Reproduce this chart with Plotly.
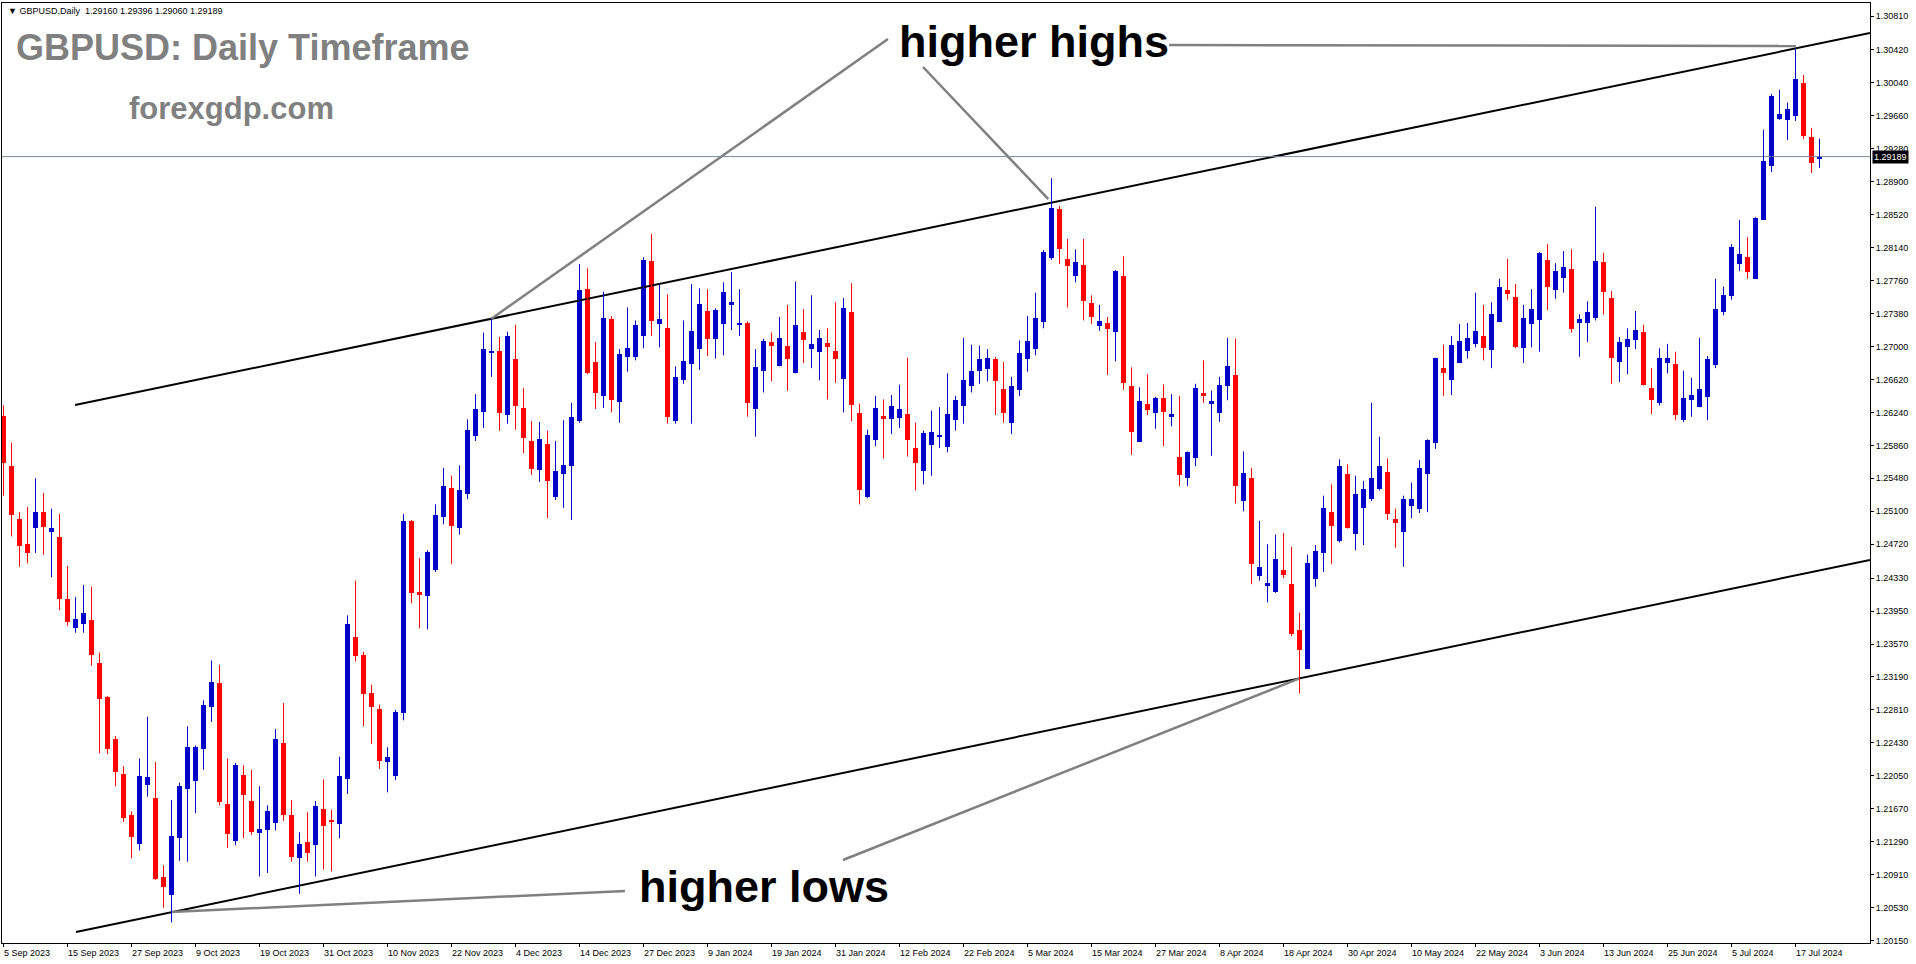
import plotly.graph_objects as go
import pandas as pd

# ---------------- data (GBPUSD daily) ----------------
open_ = [1.2620,1.2562,1.2501,1.2472,1.2491,1.2509,1.2486,1.2480,1.2409,1.2375,
1.2380,1.2385,1.2335,1.2296,1.2247,1.2207,1.2160,1.2126,1.2195,1.2179,
1.2088,1.2068,1.2133,1.2190,1.2199,1.2236,1.2284,1.2312,1.2172,1.2130,
1.2206,1.2176,1.2139,1.2142,1.2151,1.2243,1.2160,1.2110,1.2129,1.2125,
1.2167,1.2154,1.2149,1.2201,1.2365,1.2344,1.2300,1.2282,1.2221,1.2205,
1.2277,1.2499,1.2417,1.2412,1.2442,1.2503,1.2537,1.2491,1.2530,1.2597,
1.2624,1.2692,1.2695,1.2621,1.2686,1.2629,1.2591,1.2558,1.2588,1.2526,
1.2553,1.2562,1.2614,1.2766,1.2682,1.2643,1.2732,1.2636,1.2688,1.2688,
1.2712,1.2799,1.2726,1.2721,1.2614,1.2661,1.2680,1.2697,1.2741,1.2709,
1.2726,1.2748,1.2725,1.2727,1.2628,1.2672,1.2705,1.2677,1.2701,1.2669,
1.2717,1.2697,1.2694,1.2704,1.2695,1.2662,1.2740,1.2623,1.2526,1.2592,
1.2620,1.2616,1.2617,1.2622,1.2583,1.2556,1.2586,1.2596,1.2584,1.2615,
1.2631,1.2654,1.2672,1.2674,1.2686,1.2651,1.2612,1.2650,1.2686,1.2697,
1.2728,1.2802,1.2858,1.2801,1.2781,1.2794,1.2750,1.2724,1.2727,1.2717,
1.2781,1.2654,1.2590,1.2634,1.2623,1.2641,1.2619,1.2573,1.2548,1.2571,
1.2646,1.2634,1.2623,1.2654,1.2667,1.2522,1.2548,1.2435,1.2425,1.2417,
1.2442,1.2426,1.2373,1.2328,1.2432,1.2462,1.2509,1.2476,1.2553,1.2484,
1.2514,1.2524,1.2536,1.2555,1.2501,1.2486,1.2516,1.2513,1.2553,1.2589,
1.2675,1.2661,1.2681,1.2695,1.2703,1.2712,1.2696,1.2728,1.2765,1.2757,
1.2698,1.2726,1.2730,1.2800,1.2765,1.2779,1.2789,1.2727,1.2727,1.2733,
1.2797,1.2756,1.2682,1.2699,1.2707,1.2717,1.2652,1.2635,1.2681,1.2680,
1.2615,1.2638,1.2630,1.2642,1.2679,1.2740,1.2758,1.2795,1.2803,1.2778,
1.2846,1.2908,1.2962,1.2961,1.2966,1.3004,1.2942,1.29160]

high = [1.2632,1.2589,1.2509,1.2515,1.2548,1.2531,1.2513,1.2507,1.2447,1.2411,
1.2425,1.2423,1.2347,1.2297,1.2251,1.2216,1.2164,1.2225,1.2273,1.2221,
1.2102,1.2177,1.2197,1.2262,1.2240,1.2292,1.2338,1.2333,1.2225,1.2220,
1.2217,1.2212,1.2193,1.2171,1.2259,1.2289,1.2177,1.2140,1.2163,1.2176,
1.2201,1.2166,1.2227,1.2390,1.2430,1.2348,1.2310,1.2287,1.2238,1.2281,
1.2507,1.2500,1.2456,1.2465,1.2518,1.2560,1.2551,1.2563,1.2616,1.2645,
1.2716,1.2732,1.2711,1.2717,1.2725,1.2652,1.2614,1.2613,1.2603,1.2591,
1.2615,1.2635,1.2795,1.2790,1.2705,1.2763,1.2735,1.2697,1.2745,1.2730,
1.2803,1.2830,1.2771,1.2760,1.2677,1.2730,1.2772,1.2767,1.2766,1.2744,
1.2774,1.2786,1.2766,1.2729,1.2697,1.2709,1.2716,1.2734,1.2748,1.2775,
1.2743,1.2759,1.2719,1.2721,1.2751,1.2756,1.2773,1.2634,1.2604,1.2643,
1.2639,1.2644,1.2656,1.2687,1.2612,1.2603,1.2626,1.2630,1.2669,1.2643,
1.2710,1.2702,1.2701,1.2697,1.2688,1.2682,1.2665,1.2707,1.2735,1.2762,
1.2811,1.2894,1.2862,1.2824,1.2812,1.2824,1.2759,1.2748,1.2734,1.2788,
1.2804,1.2676,1.2653,1.2668,1.2642,1.2656,1.2645,1.2643,1.2579,1.2657,
1.2684,1.2649,1.2665,1.2710,1.2709,1.2579,1.2560,1.2499,1.2472,1.2483,
1.2485,1.2469,1.2393,1.2460,1.2471,1.2528,1.2541,1.2570,1.2564,1.2551,
1.2545,1.2635,1.2596,1.2571,1.2513,1.2528,1.2543,1.2569,1.2593,1.2687,
1.2702,1.2712,1.2726,1.2727,1.2762,1.2748,1.2751,1.2778,1.2801,1.2772,
1.2748,1.2766,1.2809,1.2818,1.2796,1.2810,1.2812,1.2737,1.2752,1.2861,
1.2808,1.2764,1.2711,1.2721,1.2741,1.2725,1.2675,1.2698,1.2703,1.2694,
1.2672,1.2664,1.2710,1.2689,1.2778,1.2769,1.2818,1.2846,1.2826,1.2849,
1.2950,1.2991,1.2996,1.2981,1.3043,1.3013,1.2952,1.29396]

low = [1.2528,1.2481,1.2446,1.2450,1.2462,1.2460,1.2434,1.2396,1.2378,1.2370,
1.2370,1.2332,1.2231,1.2230,1.2193,1.2152,1.2110,1.2119,1.2181,1.2085,
1.2053,1.2036,1.2107,1.2106,1.2162,1.2212,1.2267,1.2171,1.2122,1.2125,
1.2133,1.2137,1.2089,1.2093,1.2142,1.2153,1.2106,1.2069,1.2106,1.2089,
1.2097,1.2095,1.2133,1.2184,1.2337,1.2262,1.2242,1.2213,1.2186,1.2200,
1.2269,1.2404,1.2375,1.2374,1.2440,1.2495,1.2449,1.2483,1.2524,1.2591,
1.2606,1.2665,1.2603,1.2611,1.2604,1.2577,1.2552,1.2544,1.2502,1.2523,
1.2514,1.2500,1.2612,1.2668,1.2628,1.2629,1.2624,1.2612,1.2671,1.2684,
1.2698,1.2712,1.2699,1.2611,1.2611,1.2657,1.2611,1.2673,1.2689,1.2686,
1.2690,1.2719,1.2712,1.2619,1.2596,1.2647,1.2660,1.2677,1.2649,1.2669,
1.2681,1.2675,1.2661,1.2639,1.2658,1.2624,1.2614,1.2518,1.2525,1.2585,
1.2571,1.2599,1.2606,1.2573,1.2534,1.2541,1.2551,1.2583,1.2578,1.2603,
1.2611,1.2647,1.2657,1.2660,1.2621,1.2612,1.2599,1.2643,1.2671,1.2690,
1.2721,1.2800,1.2795,1.2745,1.2774,1.2730,1.2726,1.2718,1.2667,1.2683,
1.2650,1.2575,1.2590,1.2621,1.2605,1.2585,1.2608,1.2539,1.2539,1.2562,
1.2635,1.2574,1.2613,1.2638,1.2519,1.2510,1.2426,1.2430,1.2405,1.2416,
1.2433,1.2366,1.2300,1.2328,1.2423,1.2440,1.2449,1.2474,1.2490,1.2465,
1.2471,1.2522,1.2534,1.2500,1.2468,1.2446,1.2502,1.2508,1.2509,1.2582,
1.2643,1.2644,1.2681,1.2686,1.2699,1.2684,1.2675,1.2728,1.2754,1.2698,
1.2681,1.2699,1.2694,1.2742,1.2755,1.2762,1.2716,1.2688,1.2705,1.2730,
1.2737,1.2657,1.2659,1.2668,1.2697,1.2655,1.2622,1.2632,1.2669,1.2615,
1.2613,1.2619,1.2630,1.2615,1.2675,1.2736,1.2754,1.2787,1.2778,1.2778,
1.2846,1.2901,1.2961,1.2938,1.2960,1.2939,1.2900,1.29060]

close = [1.2566,1.2506,1.2470,1.2462,1.2509,1.2492,1.2491,1.2409,1.2382,1.2386,
1.2393,1.2344,1.2294,1.2236,1.2209,1.2156,1.2134,1.2205,1.2204,1.2086,
1.2077,1.2136,1.2193,1.2238,1.2238,1.2287,1.2313,1.2175,1.2138,1.2217,
1.2183,1.2140,1.2144,1.2164,1.2247,1.2160,1.2111,1.2127,1.2116,1.2170,
1.2147,1.2152,1.2205,1.2380,1.2343,1.2299,1.2284,1.2222,1.2227,1.2279,
1.2499,1.2416,1.2413,1.2463,1.2506,1.2539,1.2493,1.2534,1.2604,1.2628,
1.2697,1.2695,1.2623,1.2712,1.2631,1.2594,1.2559,1.2593,1.2545,1.2556,
1.2563,1.2619,1.2765,1.2669,1.2646,1.2733,1.2638,1.2691,1.2698,1.2725,
1.2800,1.2729,1.2732,1.2619,1.2665,1.2683,1.2718,1.2749,1.2709,1.2742,
1.2763,1.2751,1.2726,1.2635,1.2676,1.2706,1.2701,1.2710,1.2686,1.2725,
1.2707,1.2703,1.2710,1.2699,1.2686,1.2744,1.2632,1.2534,1.2598,1.2629,
1.2616,1.2631,1.2628,1.2592,1.2566,1.2600,1.2601,1.2597,1.2622,1.2638,
1.2661,1.2672,1.2686,1.2687,1.2660,1.2623,1.2654,1.2692,1.2706,1.2733,
1.2809,1.2860,1.2812,1.2793,1.2797,1.2752,1.2734,1.2729,1.2720,1.2787,
1.2658,1.2601,1.2637,1.2627,1.2641,1.2624,1.2622,1.2552,1.2578,1.2652,
1.2643,1.2637,1.2656,1.2677,1.2539,1.2554,1.2449,1.2446,1.2427,1.2455,
1.2436,1.2368,1.2350,1.2450,1.2464,1.2514,1.2493,1.2562,1.2491,1.2530,
1.2536,1.2548,1.2562,1.2507,1.2496,1.2524,1.2524,1.2560,1.2592,1.2687,
1.2669,1.2702,1.2706,1.2710,1.2718,1.2698,1.2737,1.2769,1.2760,1.2699,
1.2733,1.2743,1.2808,1.2769,1.2787,1.2792,1.2720,1.2732,1.2740,1.2799,
1.2763,1.2687,1.2705,1.2709,1.2719,1.2656,1.2638,1.2687,1.2687,1.2621,
1.2641,1.2644,1.2651,1.2686,1.2743,1.2759,1.2815,1.2807,1.2786,1.2848,
1.2914,1.2989,1.2968,1.2974,1.3008,1.2943,1.2912,1.29189]

date_labels = ["5 Sep 2023", "15 Sep 2023", "27 Sep 2023", "9 Oct 2023", "19 Oct 2023",
               "31 Oct 2023", "10 Nov 2023", "22 Nov 2023", "4 Dec 2023", "14 Dec 2023",
               "27 Dec 2023", "9 Jan 2024", "19 Jan 2024", "31 Jan 2024", "12 Feb 2024",
               "22 Feb 2024", "5 Mar 2024", "15 Mar 2024", "27 Mar 2024", "8 Apr 2024",
               "18 Apr 2024", "30 Apr 2024", "10 May 2024", "22 May 2024", "3 Jun 2024",
               "13 Jun 2024", "25 Jun 2024", "5 Jul 2024", "17 Jul 2024"]

price_ticks = [1.20150, 1.20530, 1.20910, 1.21290, 1.21670, 1.22050, 1.22430, 1.22810,
               1.23190, 1.23570, 1.23950, 1.24330, 1.24720, 1.25100, 1.25480, 1.25860,
               1.26240, 1.26620, 1.27000, 1.27380, 1.27760, 1.28140, 1.28520, 1.28900,
               1.29280, 1.29660, 1.30040, 1.30420, 1.30810]

last_price = 1.29189
header_text = "GBPUSD,Daily  1.29160 1.29396 1.29060 1.29189"

# user-drawn objects (bar index, price)
channel_upper = [(8.94, 1.26325), (233.31, 1.30614)]
channel_lower = [(9.06, 1.20250), (233.31, 1.24538)]
hh_lines = [[(60.94, 1.27317), (110.56, 1.30545)],
            [(114.94, 1.30222), (130.60, 1.28700)],
            [(145.70, 1.30476), (224.06, 1.30464)]]
hl_lines = [[(20.94, 1.20480), (77.69, 1.20722)],
            [(104.94, 1.21080), (162.00, 1.23173)]]

# ---------------- calendar: trading days (no 25 Dec / 1 Jan bars) ----------------
skip = {"2023-12-25", "2024-01-01"}
days = [d for d in pd.bdate_range("2023-09-05", "2024-07-22") if d.strftime("%Y-%m-%d") not in skip]
day_index = {d: i for i, d in enumerate(days)}
label_idx = [day_index[pd.Timestamp(pd.to_datetime(s, format="%d %b %Y"))] for s in date_labels]

BLUE = "#0000CD"
RED = "#FF0000"
n = len(open_)
xs = list(range(n))
up = [i for i in xs if close[i] >= open_[i]]
dn = [i for i in xs if close[i] < open_[i]]

fig = go.Figure()


def wick(ids, color):
    wx, wy = [], []
    for i in ids:
        wx += [i, i, None]
        wy += [low[i], high[i], None]
    return go.Scatter(x=wx, y=wy, mode="lines", line=dict(color=color, width=1),
                      hoverinfo="skip", showlegend=False)


def body(ids, color):
    return go.Bar(x=ids,
                  base=[min(open_[i], close[i]) for i in ids],
                  y=[max(abs(close[i] - open_[i]), 0.0001) for i in ids],
                  width=0.625, marker=dict(color=color, line=dict(width=0)),
                  hoverinfo="skip", showlegend=False)


# trend channel (black)
for ln in (channel_upper, channel_lower):
    fig.add_trace(go.Scatter(x=[p[0] for p in ln], y=[p[1] for p in ln], mode="lines",
                             line=dict(color="black", width=2), hoverinfo="skip",
                             showlegend=False))
# annotation lines (gray)
for ln in hh_lines + hl_lines:
    fig.add_trace(go.Scatter(x=[p[0] for p in ln], y=[p[1] for p in ln], mode="lines",
                             line=dict(color="#808080", width=2.5), hoverinfo="skip",
                             showlegend=False))
# current price line
fig.add_trace(go.Scatter(x=[-0.1875, 233.3125], y=[last_price, last_price], mode="lines",
                         line=dict(color="#778899", width=1), hoverinfo="skip", showlegend=False))

fig.add_trace(wick(up, BLUE))
fig.add_trace(wick(dn, RED))
fig.add_trace(body(up, BLUE))
fig.add_trace(body(dn, RED))

FONT = "Liberation Sans, Arial, sans-serif"

annotations = []
# date labels, left aligned at their tick
for s, i in zip(date_labels, label_idx):
    annotations.append(dict(x=i, xref="x", y=0, yref="paper", text=s, showarrow=False,
                            xanchor="left", yanchor="middle", xshift=-2, yshift=-10,
                            font=dict(family=FONT, size=9, color="black")))
# current price box
annotations.append(dict(x=1, xref="paper", y=last_price, yref="y", text=f"{last_price:.5f}",
                        showarrow=False, xanchor="left", yanchor="middle", xshift=2,
                        bgcolor="black", borderpad=1,
                        font=dict(family=FONT, size=9, color="white")))
# header line
annotations.append(dict(x=0, xref="paper", y=1, yref="paper", text="▼ " + header_text,
                        showarrow=False, xanchor="left", yanchor="middle", xshift=4, yshift=-8,
                        font=dict(family=FONT, size=9, color="black")))
# titles
annotations.append(dict(x=0, xref="paper", y=1, yref="paper",
                        text="<b>GBPUSD: Daily Timeframe</b>", showarrow=False,
                        xanchor="left", yanchor="middle", xshift=12, yshift=-44.5,
                        font=dict(family=FONT, size=36, color="#808080")))
annotations.append(dict(x=0, xref="paper", y=1, yref="paper",
                        text="<b>forexgdp.com</b>", showarrow=False,
                        xanchor="left", yanchor="middle", xshift=125, yshift=-105,
                        font=dict(family=FONT, size=31, color="#808080")))
annotations.append(dict(x=0, xref="paper", y=1, yref="paper",
                        text="<b>higher highs</b>", showarrow=False,
                        xanchor="center", yanchor="middle", xshift=1032, yshift=-38,
                        font=dict(family=FONT, size=45, color="black")))
annotations.append(dict(x=0, xref="paper", y=1, yref="paper",
                        text="<b>higher lows</b>", showarrow=False,
                        xanchor="center", yanchor="middle", xshift=762, yshift=-883,
                        font=dict(family=FONT, size=45, color="black")))

fig.update_layout(
    width=1916, height=964,
    margin=dict(l=2, r=46, t=3, b=21, pad=0),
    paper_bgcolor="white", plot_bgcolor="white",
    barmode="overlay", bargap=0, showlegend=False,
    font=dict(family=FONT, size=9, color="black"),
    hovermode=False,
    xaxis=dict(range=[-0.1875, 233.3125], showgrid=False, zeroline=False,
               showline=True, linecolor="black", linewidth=1, mirror=True,
               tickvals=label_idx, ticks="outside", ticklen=3, tickcolor="black",
               showticklabels=False, fixedrange=True),
    yaxis=dict(range=[1.201229, 1.309599], side="right", showgrid=False, zeroline=False,
               showline=True, linecolor="black", linewidth=1, mirror=True,
               tickvals=price_ticks, ticktext=[f"{v:.5f}" for v in price_ticks],
               ticks="outside", ticklen=3, tickcolor="black",
               tickfont=dict(family=FONT, size=9, color="black"), fixedrange=True),
    annotations=annotations,
)

fig.write_html("out.html", config={"displayModeBar": False},
               post_script="document.body.style.margin='0';document.body.style.overflow='hidden';")
